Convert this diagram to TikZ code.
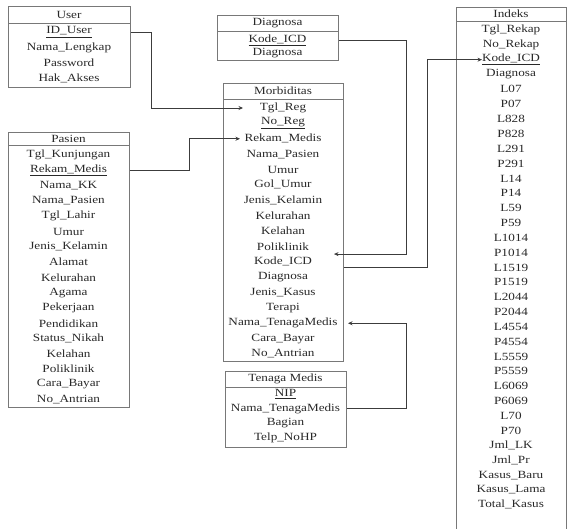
\documentclass[tikz,border=0pt]{standalone}
\usepackage{fontspec}
\setmainfont{Liberation Serif}[FakeStretch=1.2]
\usetikzlibrary{arrows.meta,calc}
\definecolor{boxgray}{RGB}{120,120,120}
\definecolor{linkgray}{RGB}{60,60,60}
\definecolor{txt}{RGB}{40,40,40}
\begin{document}
\begin{tikzpicture}[x=1pt,y=-1pt,
  entity/.style={draw=boxgray,line width=1pt,anchor=north west,inner sep=0pt},
  sep/.style={draw=boxgray,line width=1pt},
  fld/.style={font=\fontsize{11}{13}\selectfont,text=txt,inner sep=0pt},
  link/.style={draw=linkgray,line width=0.8pt},
  tip/.style={-{Stealth[length=4.5pt,width=4pt]}}]
\useasboundingbox (0,0) rectangle (570,528);

% ---- User ----
\node[entity,minimum width=122pt,minimum height=81pt] (user) at (8,6) {};
\draw[sep] (8,23) -- (130,23);
\node[fld] (user-h) at (69,14.5) {User};
\foreach \t [count=\i] in {\underline{ID\_User},Nama\_Lengkap,Password,Hak\_Akses}
  \node[fld] (user-\i) at (69,{32+(\i-1)*15.5}) {\t};

% ---- Pasien ----
\node[entity,minimum width=121pt,minimum height=275pt] (pas) at (8,132) {};
\draw[sep] (8,145) -- (129,145);
\node[fld] (pas-h) at (68.5,138.5) {Pasien};
\foreach \t [count=\i] in {Tgl\_Kunjungan,\underline{Rekam\_Medis},Nama\_KK,Nama\_Pasien,
    Tgl\_Lahir,Umur,Jenis\_Kelamin,Alamat,Kelurahan,Agama,Pekerjaan,Pendidikan,
    Status\_Nikah,Kelahan,Poliklinik,Cara\_Bayar,No\_Antrian}
  \node[fld] (pas-\i) at (68.5,{155+(\i-1)*15.3}) {\t};

% ---- Diagnosa ----
\node[entity,minimum width=121pt,minimum height=45pt] (diag) at (217,15) {};
\draw[sep] (217,31) -- (338,31);
\node[fld] (diag-h) at (277.5,23) {Diagnosa};
\node[fld] (diag-1) at (277.5,40) {\underline{Kode\_ICD}};
\node[fld] (diag-2) at (277.5,53.5) {Diagnosa};

% ---- Morbiditas ----
\node[entity,minimum width=120pt,minimum height=278pt] (morb) at (223,83) {};
\draw[sep] (223,99) -- (343,99);
\node[fld] (morb-h) at (283,91) {Morbiditas};
\foreach \t [count=\i] in {Tgl\_Reg,\underline{No\_Reg},Rekam\_Medis,Nama\_Pasien,Umur,
    Gol\_Umur,Jenis\_Kelamin,Kelurahan,Kelahan,Poliklinik,Kode\_ICD,Diagnosa,
    Jenis\_Kasus,Terapi,Nama\_TenagaMedis,Cara\_Bayar,No\_Antrian}
  \node[fld] (morb-\i) at (283,{108+(\i-1)*15.375}) {\t};

% ---- Tenaga Medis ----
\node[entity,minimum width=121pt,minimum height=76pt] (tm) at (225,371) {};
\draw[sep] (225,387) -- (346,387);
\node[fld] (tm-h) at (285.5,379) {Tenaga Medis};
\foreach \t [count=\i] in {\underline{NIP},Nama\_TenagaMedis,Bagian,Telp\_NoHP}
  \node[fld] (tm-\i) at (285.5,{394+(\i-1)*14.7}) {\t};

% ---- Indeks ----
\node[entity,minimum width=110pt,minimum height=533pt] (idx) at (456,7) {};
\draw[sep] (456,21) -- (566,21);
\node[fld] (idx-h) at (511,14) {Indeks};
\foreach \t [count=\i] in {Tgl\_Rekap,No\_Rekap,\underline{Kode\_ICD},Diagnosa,
    L07,P07,L828,P828,L291,P291,L14,P14,L59,P59,L1014,P1014,L1519,P1519,
    L2044,P2044,L4554,P4554,L5559,P5559,L6069,P6069,L70,P70,
    Jml\_LK,Jml\_Pr,Kasus\_Baru,Kasus\_Lama,Total\_Kasus}
  \node[fld] (idx-\i) at (511,{30+(\i-1)*14.84}) {\t};

% ---- relationships ----
\draw[link,tip] (user.east |- user-1) -- ++(20,0) |- ($(morb.west |- morb-1)+(20,0)$);
\draw[link,tip] (pas.east |- pas-2) -- ++(59,0) |- ($(morb.west |- morb-3)+(17,0)$);
\draw[link,tip] (diag.east |- diag-1) -- ++(67,0)
  |- ($(morb.east |- morb-10)!0.5!(morb.east |- morb-11)+(-10,0)$);
\draw[link,tip] ($(morb.east |- morb-11)+(0,6)$) -- ++(83,0) |- ($(idx.west |- idx-3)+(26,0)$);
\draw[link,tip] (tm.east |- tm-2) -- ++(59,0) |- ($(morb.east |- morb-15)+(4,0)$);
\end{tikzpicture}
\end{document}
